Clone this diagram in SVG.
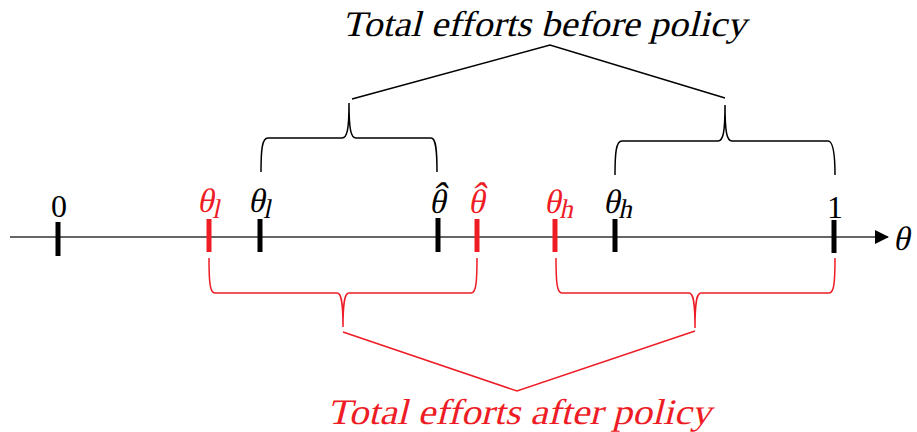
<svg xmlns="http://www.w3.org/2000/svg" width="917" height="432" viewBox="0 0 917 432">
<defs>
<style>
.tk{stroke-width:5;fill:none}
.b{stroke:#000}
.r{stroke:#ee1c25}
.lab{font-size:34px}
.num{font-size:32px}
.sub{font-size:27px}
.hat{font-size:40px}
.bl{fill:#000}
.rd{fill:#ee1c25}
.br{fill:none;stroke-width:1.5}
.title{font-size:36px}
</style>
<marker id="arr" markerWidth="14" markerHeight="14" refX="13" refY="7" orient="auto" markerUnits="userSpaceOnUse">
<path d="M0,0 L14,7 L0,14 Z" fill="#000"/>
</marker>
</defs>
<rect width="917" height="432" fill="#fff"/>
<g font-family="Liberation Serif, Times New Roman, DejaVu Serif, serif">
<g id="axis">
<line x1="10" y1="237" x2="888" y2="237" stroke="#666" stroke-width="2" marker-end="url(#arr)"/>
<text class="lab bl" transform="translate(893,250) skewX(-12)">θ</text>
</g>
<g id="tick-0"><line class="tk b" x1="58" y1="222" x2="58" y2="256"/><text class="num bl" x="59" y="217" text-anchor="middle">0</text></g>
<g id="tick-theta-l-red"><line class="tk r" x1="209" y1="219" x2="209" y2="252"/><text class="lab rd" transform="translate(197,212) skewX(-12)">θ<tspan class="sub" dy="6">l</tspan></text></g>
<g id="tick-theta-l"><line class="tk b" x1="260" y1="219" x2="260" y2="252"/><text class="lab bl" transform="translate(248,212) skewX(-12)">θ<tspan class="sub" dy="6">l</tspan></text></g>
<g id="tick-theta-hat"><line class="tk b" x1="438" y1="218" x2="438" y2="252"/><text class="lab bl" transform="translate(429,213) skewX(-12)"><tspan x="0" y="0">θ</tspan><tspan class="hat" x="1" y="-3">ˆ</tspan></text></g>
<g id="tick-theta-hat-red"><line class="tk r" x1="477" y1="219" x2="477" y2="252"/><text class="lab rd" transform="translate(468,213) skewX(-12)"><tspan x="0" y="0">θ</tspan><tspan class="hat" x="1" y="-3">ˆ</tspan></text></g>
<g id="tick-theta-h-red"><line class="tk r" x1="555" y1="219" x2="555" y2="252"/><text class="lab rd" transform="translate(544,213) skewX(-12)">θ<tspan class="sub" dy="5">h</tspan></text></g>
<g id="tick-theta-h"><line class="tk b" x1="615" y1="219" x2="615" y2="252"/><text class="lab bl" transform="translate(603,213) skewX(-12)">θ<tspan class="sub" dy="5">h</tspan></text></g>
<g id="tick-1"><line class="tk b" x1="834" y1="220" x2="834" y2="253"/><text class="num bl" x="835" y="218" text-anchor="middle">1</text></g>
<g id="brace-before-left"><path class="br b" d="M261,172 C261,150 262,138 268,138 L342,138 C347,138 349,130 349,103 C349,130 351,138 356,138 L431,138 C436,138 437,150 437,172"/></g>
<g id="brace-before-right"><path class="br b" d="M615,175 C615,153 616,141 622,141 L718,141 C723,141 725,133 725,105 C725,133 727,141 732,141 L828,141 C833,141 835,153 835,175"/></g>
<g id="brace-after-left"><path class="br r" d="M209,258 C209,283 210,293 215,293 L337,293 C341,293 343,300 343,327 C343,300 345,293 349,293 L471,293 C476,293 477,283 477,258"/></g>
<g id="brace-after-right"><path class="br r" d="M556,258 C556,283 557,293 562,293 L689,293 C693,293 695,300 695,328 C695,300 697,293 701,293 L829,293 C834,293 835,283 835,258"/></g>
<g id="label-before"><text class="title bl" transform="translate(342,36) skewX(-14)" textLength="404" lengthAdjust="spacingAndGlyphs">Total efforts before policy</text></g>
<g id="label-after"><text class="title rd" transform="translate(327,424) skewX(-14)" textLength="384" lengthAdjust="spacingAndGlyphs">Total efforts after policy</text></g>
<g id="connectors">
<polyline points="352,99 550,45 725,98" fill="none" stroke="#000" stroke-width="1.5"/>
<polyline points="343,332 517,391 695,331" fill="none" stroke="#ee1c25" stroke-width="1.5"/>
</g>
</g>
</svg>
